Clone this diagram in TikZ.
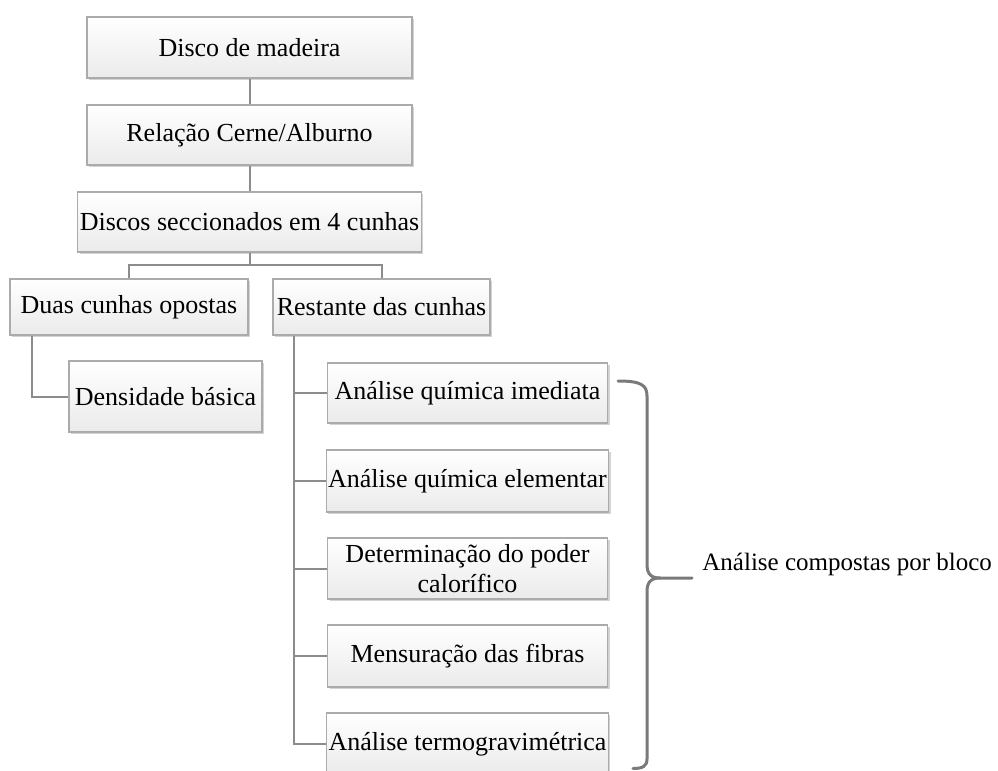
\documentclass[tikz,border=0pt]{standalone}
\usepackage{fontspec}
\setmainfont{Liberation Serif}
\usepackage{tikz}
\usetikzlibrary{shadows}
\definecolor{linegray}{HTML}{8C8C8C}
\definecolor{bracegray}{HTML}{7A7A7A}
\definecolor{boxline}{HTML}{ABABAB}
\tikzset{box/.style={draw=boxline, line width=0.6pt, top color=white, bottom color=gray!16,
    drop shadow={shadow xshift=1pt, shadow yshift=-1.2pt, opacity=0.35},
    inner sep=1pt, align=center, font=\fontsize{13}{14.8}\selectfont}}
\tikzset{conn/.style={draw=linegray, line width=1pt}}
\tikzstyle{bracket} = [draw=bracegray, line width=1.5pt, line cap=round]

\begin{document}
\begin{tikzpicture}[x=0.5pt,y=-0.5pt]
\useasboundingbox (0,0) rectangle (998,771);
\clip (0,0) rectangle (998,771);

\node[box, minimum width=162.5pt, minimum height=30.5pt] (disco) at (249.5,47.5) {Disco de madeira};
\node[box, minimum width=162.5pt, minimum height=30pt] (relacao) at (249.5,135) {Relação Cerne/Alburno};
\node[box, minimum width=170pt, minimum height=30pt] (discos) at (249.5,222) {Discos seccionados em 4 cunhas};
\node[box, minimum width=119pt, minimum height=28pt] (duas) at (129,307) {Duas cunhas opostas};
\node[box, minimum width=108.5pt, minimum height=28pt] (restante) at (381.5,307) {Restante das cunhas};
\node[box, minimum width=96.5pt, minimum height=35.5pt] (densidade) at (165.5,396.5) {Densidade básica};

\node[box, minimum width=140pt, minimum height=30pt] (imediata) at (467.5,393) {Análise química imediata};
\node[box, minimum width=140pt, minimum height=31pt] (elementar) at (467.5,481) {Análise química elementar};
\node[box, minimum width=140pt, minimum height=30.5pt] (calor) at (467.5,568.5) {Determinação do poder\\calorífico};
\node[box, minimum width=140pt, minimum height=31pt] (fibras) at (467.5,656) {Mensuração das fibras};
\node[box, minimum width=140pt, minimum height=31pt] (termo) at (467.5,744) {Análise termogravimétrica};

\draw[conn] (disco.south) -- (relacao.north);
\draw[conn] (relacao.south) -- (discos.north);
\coordinate (split) at (249.5,265);
\draw[conn] (discos.south) -- (split) -| (duas.north);
\draw[conn] (split) -| (restante.north);
\draw[conn] ([xshift=11.5pt]duas.south west) |- (densidade.west);
\draw[conn] ([xshift=11pt]restante.south west) |- (imediata.west);
\draw[conn] ([xshift=11pt]restante.south west) |- (elementar.west);
\draw[conn] ([xshift=11pt]restante.south west) |- (calor.west);
\draw[conn] ([xshift=11pt]restante.south west) |- (fibras.west);
\draw[conn] ([xshift=11pt]restante.south west) |- (termo.west);

\coordinate (tip) at (692,578);
\draw[bracket] (618,381) .. controls (641,381) and (647,385) .. (647,396) -- (647,564)
  .. controls (647,573) and (650,578) .. (660,578) -- (tip);
\draw[bracket] (660,578) .. controls (650,578) and (647,583) .. (647,592) -- (647,759)
  .. controls (647,766) and (643,768.5) .. (633,768.5);
\node[anchor=base west, inner sep=0pt, font=\fontsize{12.5}{14.5}\selectfont] (bloco) at (702,570) {Análise compostas por bloco};
\end{tikzpicture}
\end{document}
